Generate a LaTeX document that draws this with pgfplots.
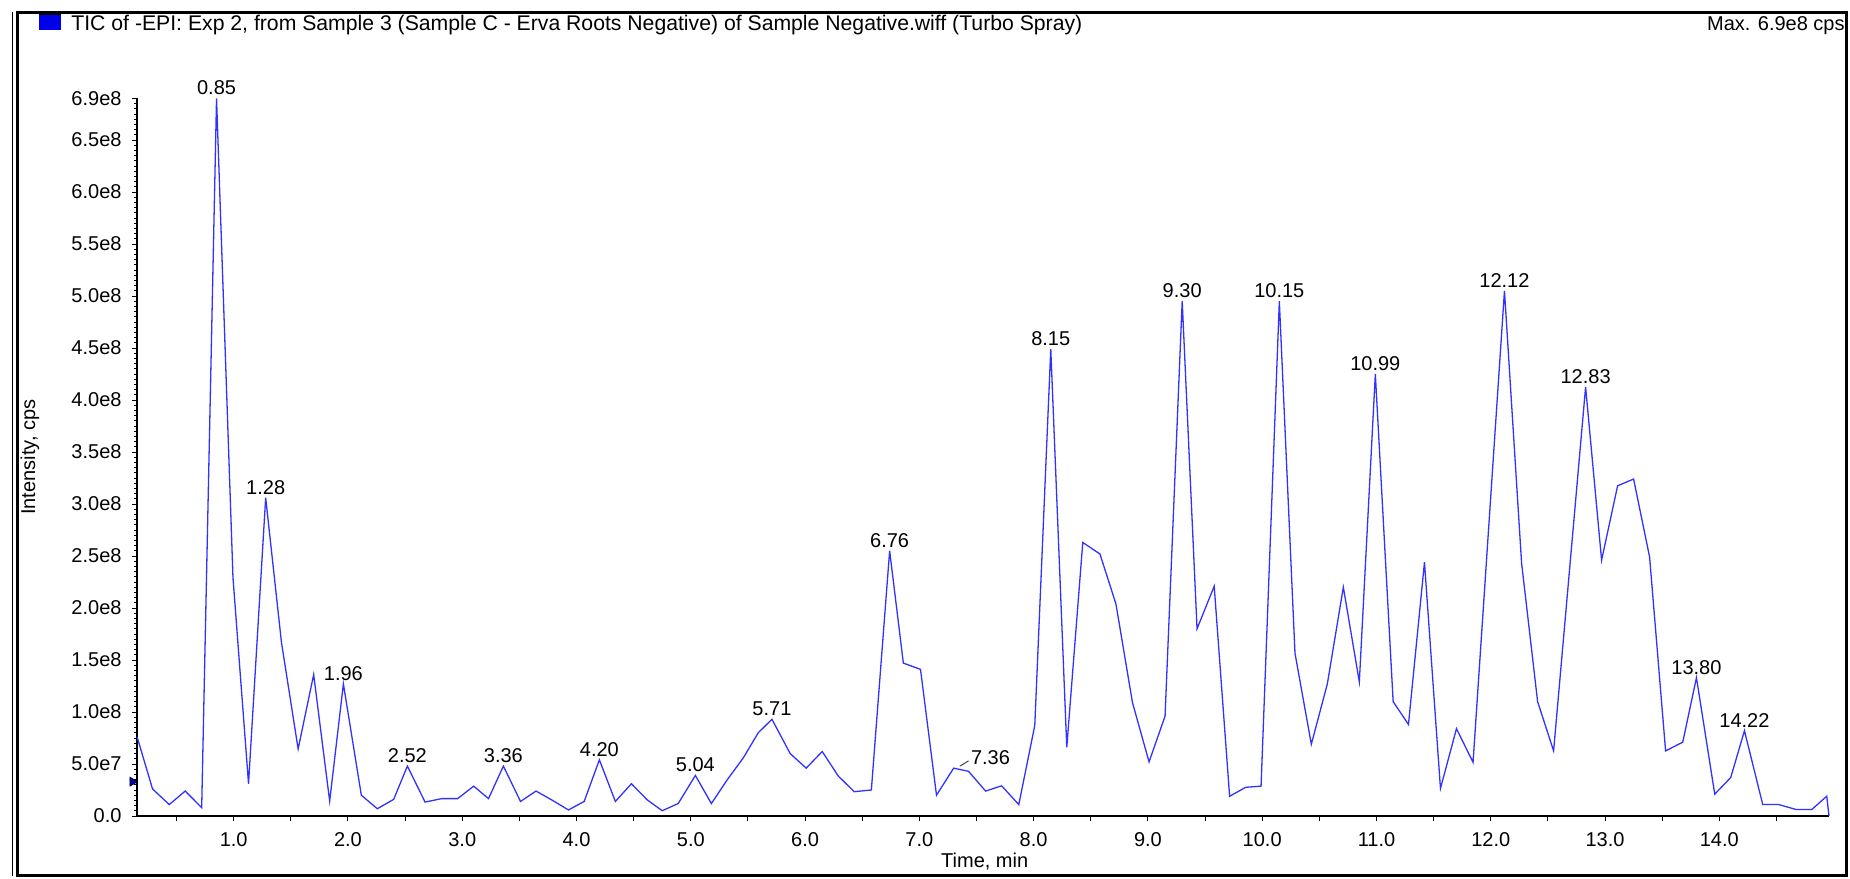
\documentclass[border=0pt]{standalone}
\usepackage{fontspec}
\setmainfont{Liberation Sans}
\usepackage{pgfplots}
\pgfplotsset{compat=1.18}
\definecolor{tic}{RGB}{50,50,255}
\definecolor{legblue}{RGB}{0,0,235}
\pgfplotstableread{
t v
0.155 0.76
0.29 0.26
0.436 0.11
0.576 0.24
0.72 0.08
0.85 6.9
0.994 2.29
1.13 0.31
1.28 3.06
1.418 1.67
1.564 0.645
1.70 1.36
1.84 0.143
1.96 1.27
2.117 0.20
2.257 0.07
2.40 0.16
2.52 0.48
2.675 0.134
2.82 0.167
2.96 0.167
3.10 0.287
3.23 0.167
3.36 0.48
3.51 0.14
3.646 0.24
3.79 0.15
3.93 0.058
4.067 0.14
4.20 0.54
4.34 0.14
4.48 0.31
4.62 0.154
4.75 0.051
4.89 0.12
5.04 0.39
5.18 0.12
5.32 0.35
5.46 0.56
5.59 0.80
5.71 0.93
5.87 0.60
6.01 0.46
6.15 0.62
6.29 0.385
6.43 0.234
6.58 0.25
6.74 2.55
6.86 1.47
7.01 1.41
7.15 0.20
7.30 0.46
7.43 0.43
7.58 0.24
7.72 0.29
7.87 0.11
8.01 0.87
8.15 4.49
8.29 0.66
8.43 2.63
8.58 2.52
8.72 2.04
8.865 1.09
9.01 0.52
9.15 0.96
9.30 4.95
9.43 1.80
9.58 2.21
9.715 0.19
9.856 0.276
9.99 0.287
10.15 4.95
10.287 1.565
10.43 0.69
10.57 1.27
10.71 2.20
10.85 1.29
10.99 4.25
11.146 1.10
11.28 0.88
11.42 2.44
11.56 0.265
11.70 0.84
11.845 0.516
12.12 5.05
12.27 2.43
12.41 1.10
12.55 0.626
12.83 4.125
12.97 2.46
13.11 3.175
13.25 3.24
13.39 2.49
13.53 0.626
13.68 0.71
13.80 1.33
13.96 0.21
14.10 0.37
14.22 0.82
14.38 0.11
14.52 0.11
14.67 0.063
14.81 0.063
14.94 0.19
14.96 0.0
}\tic
\pgfplotstableread{
t v lab
0.85 6.9 0.85
1.28 3.06 1.28
1.96 1.27 1.96
2.52 0.48 2.52
3.36 0.48 3.36
4.20 0.54 4.20
5.04 0.39 5.04
5.71 0.93 5.71
6.74 2.55 6.76
8.15 4.49 8.15
9.30 4.95 9.30
10.15 4.95 10.15
10.99 4.25 10.99
12.12 5.05 12.12
12.83 4.125 12.83
13.80 1.33 13.80
14.22 0.82 14.22
}\peaks
\begin{document}
\begin{tikzpicture}[x=1pt,y=1pt]
\path[use as bounding box] (0,0) rectangle (925,439);
\draw[line width=1.3pt] (8.8,1.2) rectangle (923.2,432.8);
\draw[line width=0.6pt] (6.2,1.2) -- (6.2,432.8);
\fill[legblue] (19.5,424) rectangle (30.5,432);
\draw[line width=0.8pt] (19.5,432) -- (30.5,432);
\node[anchor=base west, inner sep=0pt, font=\fontsize{10.6}{12}\selectfont] at (35.5,423.5) {TIC of -EPI: Exp 2, from Sample 3 (Sample C - Erva Roots Negative) of Sample Negative.wiff (Turbo Spray)};
\node[anchor=base east, inner sep=0pt, font=\fontsize{10}{12}\selectfont] at (922.5,423.5) {Max. 6.9e8 cps};
\begin{axis}[
  at={(68.5pt,31pt)}, anchor=south west,
  scale only axis, width=846pt, height=358.8pt,
  xmin=0.154, xmax=14.96, ymin=0, ymax=6.9,
  axis x line*=bottom, axis y line*=left,
  axis line style={-, line width=0.8pt, black},
  tick align=outside,
  major tick length=2.7pt, minor tick length=1.6pt,
  every tick/.style={black, line width=0.5pt},
  xtick={0.5,1,...,14.5},
  xticklabels={,1.0,,2.0,,3.0,,4.0,,5.0,,6.0,,7.0,,8.0,,9.0,,10.0,,11.0,,12.0,,13.0,,14.0,},
  ytick={0,0.5,1,1.5,2,2.5,3,3.5,4,4.5,5,5.5,6,6.5,6.9},
  yticklabels={0.0,5.0e7,1.0e8,1.5e8,2.0e8,2.5e8,3.0e8,3.5e8,4.0e8,4.5e8,5.0e8,5.5e8,6.0e8,6.5e8,6.9e8},
  minor ytick={0,0.05,...,6.9},
  tick label style={font=\fontsize{10}{12}\selectfont},
  xticklabel style={yshift=-2pt},
  yticklabel style={xshift=-1.5pt},
  xlabel={Time, min}, ylabel={Intensity, cps},
  label style={font=\fontsize{10}{12}\selectfont},
  xlabel style={at={(axis description cs:0.501,-0.064)}, anchor=center},
  ylabel style={at={(axis description cs:-0.0632,0.5)}, anchor=center},
  clip=false,
]
\addplot[color=tic, line width=0.65pt, mark=none] table[x=t, y=v] {\tic};
\addplot[draw=none, mark=none, nodes near coords, point meta=explicit symbolic,
  every node near coord/.style={anchor=south, inner sep=1.5pt, font=\fontsize{10}{12}\selectfont, black}]
  table[x=t, y=v, meta=lab] {\peaks};
\addplot[draw=none, mark=none, nodes near coords, point meta=explicit symbolic,
  every node near coord/.style={anchor=west, inner sep=0.5pt, font=\fontsize{10}{12}\selectfont, black}]
  coordinates {(7.44,0.56)[7.36]};
\addplot[color=darkgray, line width=0.5pt, mark=none] coordinates {(7.355,0.48) (7.43,0.53)};
\addplot[only marks, mark=triangle*, mark size=2.6pt, mark options={rotate=-90, fill=legblue!70!black, draw=black, line width=0.3pt}] coordinates {(0.115,0.33)};
\end{axis}
\end{tikzpicture}
\end{document}
